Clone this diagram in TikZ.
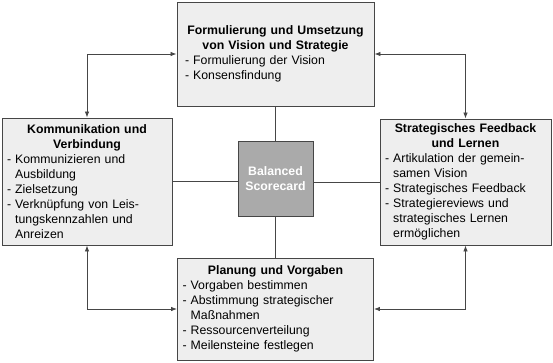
\documentclass[tikz,border=0pt]{standalone}
\usepackage{fontspec}
\setmainfont{Liberation Sans}
\usetikzlibrary{arrows.meta}

\definecolor{boxgray}{RGB}{238,238,238}
\definecolor{coregray}{RGB}{170,170,170}
\definecolor{edgegray}{RGB}{70,70,70}

\tikzset{
    bsbox/.style={draw=edgegray, line width=0.9pt, fill=boxgray, inner sep=0pt,
        font=\fontsize{12.3}{15}\selectfont},
    corebox/.style={draw=edgegray, line width=0.9pt, fill=coregray, inner sep=0pt,
        minimum width=75pt, minimum height=75pt, text=white, align=center,
        font=\fontsize{12.3}{14.5}\selectfont\bfseries},
    link/.style={draw=edgegray, line width=0.8pt},
    dblarrow/.style={link, {Latex[length=6pt,width=4.5pt]}-{Latex[length=6pt,width=4.5pt]}}
}
\newcommand{\boxtitle}[1]{{\centering\bfseries #1\par}}
\newcommand{\cont}{\phantom{-\ }}

\begin{document}
\begin{tikzpicture}[x=1pt, y=-1pt]
    \useasboundingbox (0,0) rectangle (553,362);

    % Center: the scorecard itself
    \node[corebox] (bsc) at (275.5,178.5) {Balanced\\Scorecard};

    % Top and bottom boxes
    \node[bsbox, minimum width=197pt, minimum height=104pt, text width=181pt] (vision) at (275.5,54)
        {\raggedright\boxtitle{Formulierung und Umsetzung\\von Vision und Strategie}%
        - Formulierung der Vision\\- Konsensfindung};
    \node[bsbox, minimum width=196pt, minimum height=102pt, text width=186pt] (planung) at (275.5,309)
        {\raggedright\boxtitle{Planung und Vorgaben}%
        - Vorgaben bestimmen\\- Abstimmung strategischer\\\cont Maßnahmen\\%
        - Ressourcenverteilung\\- Meilensteine festlegen};

    % Left and right boxes
    \node[bsbox, minimum width=170pt, minimum height=127pt, text width=160pt] (komm) at (87,181.5)
        {\raggedright\boxtitle{Kommunikation und\\Verbindung}%
        - Kommunizieren und\\\cont Ausbildung\\- Zielsetzung\\%
        - Verknüpfung von Leis-\\\cont tungskennzahlen und\\\cont Anreizen};
    \node[bsbox, minimum width=171pt, minimum height=126pt, text width=161pt] (feedback) at (465.5,182)
        {\raggedright\boxtitle{Strategisches Feedback\\und Lernen}%
        - Artikulation der gemein-\\\cont samen Vision\\- Strategisches Feedback\\%
        - Strategiereviews und\\\cont strategisches Lernen\\\cont ermöglichen};

    % Spokes to the center
    \draw[link] (vision.south) -- (bsc.north);
    \draw[link] (bsc.south) -- (planung.north);
    \draw[link] (komm.east) -- (komm.east -| bsc.west);
    \draw[link] (feedback.west) -- (feedback.west -| bsc.east);

    % Corner arrows between neighbours
    \draw[dblarrow] (komm.north) |- (vision.west);
    \draw[dblarrow] (feedback.north) |- (vision.east);
    \draw[dblarrow] (komm.south) |- (planung.west);
    \draw[dblarrow] (feedback.south) |- (planung.east);
\end{tikzpicture}
\end{document}
